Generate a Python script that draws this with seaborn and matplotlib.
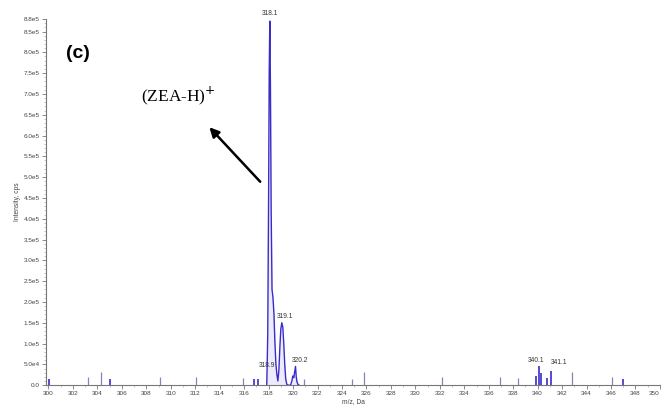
import matplotlib
matplotlib.use("Agg")
import matplotlib.pyplot as plt
import seaborn as sns
import pandas as pd

# Profile spectrum around the (ZEA-H)+ cluster (m/z, intensity in cps)
profile_mz = [317.85, 317.93, 318.00, 318.05, 318.10, 318.15, 318.21, 318.28, 318.36, 318.44,
              318.52, 318.60, 318.68, 318.76, 318.84, 318.92, 319.00, 319.08, 319.16,
              319.24, 319.32, 319.40, 319.48, 319.56,
              319.80, 319.90, 319.98, 320.06, 320.12, 320.20, 320.26, 320.32, 320.40, 320.50]
profile_int = [0, 1.2e5, 4.5e5, 7.5e5, 8.75e5, 7.2e5, 4.2e5, 2.3e5, 2.1e5, 1.7e5,
               1.0e5, 0.5e5, 0.25e5, 0.1e5, 0.35e5, 0.9e5, 1.35e5, 1.5e5, 1.4e5,
               1.0e5, 0.5e5, 0.15e5, 0.03e5, 0.0,
               0.0, 0.1e5, 0.22e5, 0.18e5, 0.3e5, 0.45e5, 0.2e5, 0.08e5, 0.02e5, 0.0]

# Isolated centroid sticks across the scan range
stick_mz = [300.05, 303.2, 304.3, 305.0, 309.1, 312.1, 315.9, 316.8, 317.1, 320.9,
            324.8, 325.8, 332.2, 336.9, 338.4, 339.9, 340.1, 340.3, 340.8, 341.1,
            342.8, 346.1, 347.0]
stick_int = [0.15e5, 0.2e5, 0.32e5, 0.15e5, 0.2e5, 0.2e5, 0.18e5, 0.15e5, 0.15e5, 0.15e5,
             0.15e5, 0.32e5, 0.2e5, 0.2e5, 0.18e5, 0.22e5, 0.45e5, 0.3e5, 0.17e5, 0.35e5,
             0.32e5, 0.2e5, 0.15e5]
stick_kind = ["peak", "noise", "noise", "peak", "noise", "noise", "noise", "peak", "peak", "noise",
              "noise", "noise", "noise", "noise", "noise", "peak", "peak", "peak", "peak", "peak",
              "noise", "noise", "peak"]

# Annotated peak labels
label_text = ["318.1", "319.1", "318.9", "320.2", "340.1", "341.1"]
label_mz = [318.1, 319.1, 318.9, 320.2, 340.1, 341.1]
label_int = [8.75e5, 1.5e5, 0.32e5, 0.45e5, 0.45e5, 0.35e5]

x_ticks = list(range(300, 351, 2))
y_ticks = [0, 0.5e5, 1.0e5, 1.5e5, 2.0e5, 2.5e5, 3.0e5, 3.5e5, 4.0e5, 4.5e5, 5.0e5,
           5.5e5, 6.0e5, 6.5e5, 7.0e5, 7.5e5, 8.0e5, 8.5e5, 8.8e5]
y_tick_labels = ["0.0", "5.0e4", "1.0e5", "1.5e5", "2.0e5", "2.5e5", "3.0e5", "3.5e5",
                 "4.0e5", "4.5e5", "5.0e5", "5.5e5", "6.0e5", "6.5e5", "7.0e5", "7.5e5",
                 "8.0e5", "8.5e5", "8.8e5"]

sns.set_style("white")
plt.rcParams["font.family"] = ["Liberation Sans", "DejaVu Sans"]

fig = plt.figure(figsize=(6.63, 4.05), dpi=100)
ax = fig.add_axes([0.0694, 0.049, 0.926, 0.904])

line_col = "#3a2cc8"
noise_col = "#8a84b0"

prof = pd.DataFrame({"mz": profile_mz, "intensity": profile_int})
sns.lineplot(data=prof, x="mz", y="intensity", ax=ax, color=line_col, linewidth=1.0,
             sort=False, estimator=None)
ax.fill_between(profile_mz, profile_int, color="#c4bef2", alpha=0.3, linewidth=0)

for mz, h, kind in zip(stick_mz, stick_int, stick_kind):
    ax.vlines(mz, 0, h, color=line_col if kind == "peak" else noise_col,
              linewidth=1.2 if kind == "peak" else 0.9)

offsets = {"318.1": (0, 3), "319.1": (2, 2), "318.9": (-9, 2),
           "320.2": (3, 2), "340.1": (-2, 2), "341.1": (6, 3)}
for t, mz, h in zip(label_text, label_mz, label_int):
    dx, dy = offsets[t]
    ax.annotate(t, (mz, h), xytext=(dx, dy), textcoords="offset points",
                ha="center", va="bottom", fontsize=4.8, color="#333333")

ax.set_xlim(299.8, 350)
ax.set_ylim(0, 8.8e5)
ax.set_xticks(x_ticks)
ax.set_xticklabels([str(v) for v in x_ticks])
ax.set_xticks([v + 1 for v in x_ticks[:-1]], minor=True)
ax.set_yticks(y_ticks)
ax.set_yticklabels(y_tick_labels)
ax.set_yticks([i * 1e4 for i in range(0, 89)], minor=True)
ax.tick_params(axis="both", which="major", labelsize=4.6, labelcolor="#444444",
               color="#777777", length=3, width=0.6, pad=1.5, direction="out")
ax.tick_params(axis="both", which="minor", color="#999999", length=1.5, width=0.4,
               direction="out")
ax.tick_params(bottom=True, left=True, which="both")
# last tick label sits at the figure edge: keep it inside
ax.get_xticklabels()[-1].set_horizontalalignment("right")

for side in ("top", "right"):
    ax.spines[side].set_visible(False)
for side in ("left", "bottom"):
    ax.spines[side].set_color("#777777")
    ax.spines[side].set_linewidth(0.8)

ax.set_xlabel("m/z, Da", fontsize=4.8, color="#444444", labelpad=1)
ax.set_ylabel("Intensity, cps", fontsize=4.8, color="#444444", labelpad=2)

ax.text(0.033, 0.905, "(c)", transform=ax.transAxes, fontsize=14, fontweight="bold",
        color="black", va="center", ha="left")
ax.text(0.155, 0.79, "(ZEA-H)$^{+}$", transform=ax.transAxes, fontsize=12.5,
        family="Liberation Serif", color="black", va="center", ha="left")
ax.annotate("", xy=(0.263, 0.71), xytext=(0.352, 0.55), xycoords="axes fraction",
            arrowprops=dict(arrowstyle="-|>", color="black", lw=1.8, mutation_scale=14))

fig.savefig("out.png", dpi=100)
